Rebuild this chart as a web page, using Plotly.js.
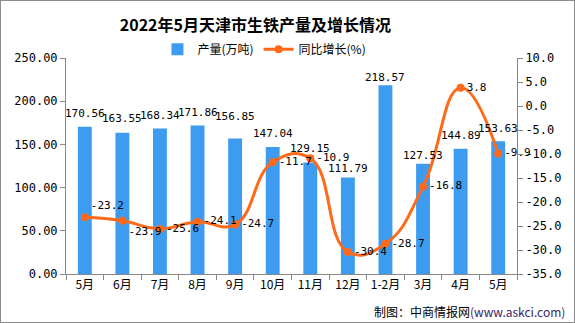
<!DOCTYPE html>
<html><head><meta charset="utf-8">
<script src="https://cdn.plot.ly/plotly-3.0.1.min.js"></script>
<style>
html,body{margin:0;padding:0;background:#fff;}
#chart{width:575px;height:323px;border:1px solid #8c8c8c;box-sizing:border-box;overflow:hidden;}
</style></head>
<body><div id="chart"></div>
<script>
const months = ["5月","6月","7月","8月","9月","10月","11月","12月","1-2月","3月","4月","5月"];
const output = [170.56,163.55,168.34,171.86,156.85,147.04,129.15,111.79,218.57,127.53,144.89,153.63];
const growth = [-23.2,-23.9,-25.6,-24.1,-24.7,-11.7,-10.9,-30.4,-28.7,-16.8,3.8,-9.9];
const leftTicks = [0,50,100,150,200,250];
const rightTicks = [-35,-30,-25,-20,-15,-10,-5,0,5,10];

// label placement (style only): pixel lift of each bar label above its bar
const barLabelLift = [5,6,5,5,13,5,5,0,-1,0,5,4];

const idx = months.map((_, i) => i);
const numFont = {family: "DejaVu Sans Mono, monospace", size: 12, color: "#000"};
const lblFont = {family: "DejaVu Sans Mono, monospace", size: 11, color: "#000"};
const cjk = "Noto Sans CJK SC, sans-serif";
const linePos = growth.map((v, i) => i === 0 ? "top right" : (i === 1 ? "bottom right" : "middle right"));

const bar = {
  type: "bar", x: idx, y: output, name: "产量(万吨)",
  marker: {color: "#3D9CF0"}, width: 0.37,
  hoverinfo: "skip"
};
const line = {
  type: "scatter", mode: "lines+markers+text", x: idx, y: growth, yaxis: "y2",
  name: "同比增长(%)",
  line: {color: "#FF6A1A", width: 3, shape: "spline", smoothing: 1.3},
  marker: {color: "#FF6A1A", size: 8},
  text: growth.map(v => String(v)), textposition: linePos, textfont: lblFont,
  cliponaxis: false, hoverinfo: "skip"
};

const barLabels = output.map((v, i) => ({
  xref: "x", yref: "y", x: i, y: v, yanchor: "bottom", xanchor: "center", yshift: barLabelLift[i],
  showarrow: false, text: v.toFixed(2), font: lblFont
}));

const layout = {
  width: 573, height: 321,
  margin: {l: 65, r: 57, t: 57, b: 48},
  paper_bgcolor: "#fff", plot_bgcolor: "#fff",
  showlegend: true,
  title: {text: "2022年5月天津市生铁产量及增长情况", font: {family: cjk, size: 16, color: "#000", weight: "bold"},
          xref: "container", x: 0.444, xanchor: "center", yref: "container", y: 0.925, yanchor: "middle"},
  legend: {orientation: "h", x: 0.44, xanchor: "center", y: 1.04, yanchor: "middle",
           font: {family: cjk, size: 12, color: "#000"}, itemwidth: 30, bgcolor: "rgba(0,0,0,0)"},
  xaxis: {range: [-0.5, 11.5], tickmode: "array", tickvals: idx, ticktext: months,
          ticks: "", showline: true, linecolor: "#888", showgrid: false, zeroline: false,
          tickfont: {family: cjk, size: 12, color: "#000"},
          minor: {tickmode: "array", tickvals: idx.map(i => i - 0.5).concat([11.5]), ticks: "outside", ticklen: 5, tickcolor: "#888", showgrid: false}},
  yaxis: {range: [0, 250], tickmode: "array", tickvals: leftTicks, ticktext: leftTicks.map(v => v.toFixed(2)),
          ticks: "outside", ticklen: 5, tickcolor: "#888", showline: true, linecolor: "#888",
          showgrid: false, zeroline: false, tickfont: numFont},
  yaxis2: {range: [-35, 10], overlaying: "y", side: "right", tickmode: "array", tickvals: rightTicks,
           ticktext: rightTicks.map(v => v.toFixed(1)),
           ticks: "outside", ticklen: 5, tickcolor: "#888", showline: true, linecolor: "#888",
           showgrid: false, zeroline: false, tickfont: numFont},
  annotations: barLabels.concat([{
    xref: "paper", yref: "paper", x: 1.11, y: -0.175, xanchor: "right", yanchor: "middle", showarrow: false,
    text: "制图：中商情报网<span style='color:#3a2566'>(www.askci.com)</span>",
    font: {family: cjk, size: 12, color: "#000"}
  }])
};
Plotly.newPlot("chart", [bar, line], layout, {displayModeBar: false, staticPlot: true});
</script></body></html>
